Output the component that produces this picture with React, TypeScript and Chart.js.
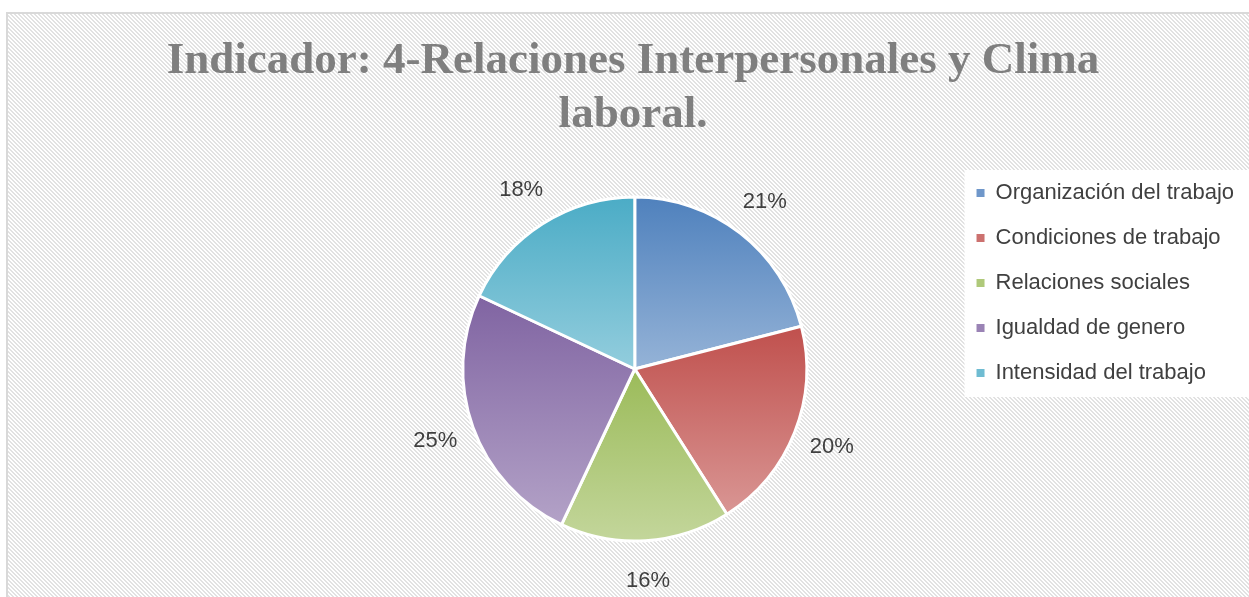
import { useEffect, useRef } from 'react';
import { Chart, registerables, layouts } from 'chart.js';

Chart.register(...registerables);

const categories = [
  'Organización del trabajo',
  'Condiciones de trabajo',
  'Relaciones sociales',
  'Igualdad de genero',
  'Intensidad del trabajo',
];
const values = [21, 20, 16, 25, 18];
const titleLines = ['Indicador: 4-Relaciones Interpersonales y Clima', 'laboral.'];

const topColors = ['#4f81bd', '#c0504d', '#9bbb59', '#8064a2', '#4bacc6'];
const bottomColors = ['#95b3d7', '#d99694', '#c3d69b', '#b3a2c7', '#93cddd'];
const legendColors = ['#6f97ca', '#cc716f', '#afc97a', '#9a83b5', '#6fbcd2'];

const PIE_RADIUS = 172;
const LABEL_OFFSET = 40;
const LEFT_SPACE = 294;
const TEXT_COLOR = '#404040';

function sliceGradient(c: any) {
  const chart = c.chart;
  const area = chart.chartArea;
  const i = c.dataIndex;
  if (!area || i == null) return topColors[i ?? 0];
  const data: number[] = c.dataset.data;
  const total = data.reduce((a, b) => a + b, 0);
  let cum = 0;
  for (let k = 0; k < i; k++) cum += data[k];
  const cy = (area.top + area.bottom) / 2;
  const r = PIE_RADIUS;
  const a0 = -Math.PI / 2 + (2 * Math.PI * cum) / total;
  const a1 = a0 + (2 * Math.PI * data[i]) / total;
  const ys = [cy, cy + r * Math.sin(a0), cy + r * Math.sin(a1)];
  for (const t of [-Math.PI / 2, Math.PI / 2, (3 * Math.PI) / 2]) {
    if (t >= a0 && t <= a1) ys.push(cy + r * Math.sin(t));
  }
  const g = chart.ctx.createLinearGradient(0, Math.min(...ys), 0, Math.max(...ys));
  g.addColorStop(0, topColors[i]);
  g.addColorStop(1, bottomColors[i]);
  return g;
}

const spacerPlugin = {
  id: 'leftSpacer',
  beforeInit(chart: any) {
    const box: any = {
      position: 'left',
      weight: 0,
      fullSize: false,
      options: {},
      left: 0,
      top: 0,
      right: 0,
      bottom: 0,
      width: 0,
      height: 0,
      isHorizontal() {
        return false;
      },
      update(_maxWidth: number, maxHeight: number) {
        this.width = LEFT_SPACE;
        this.height = maxHeight;
      },
      draw() {},
    };
    layouts.addBox(chart, box);
  },
};

const backgroundPlugin = {
  id: 'sheetBackground',
  beforeDraw(chart: any) {
    const { ctx, width, height } = chart;
    ctx.save();
    ctx.fillStyle = '#ffffff';
    ctx.fillRect(0, 0, width, height);
    const pc = document.createElement('canvas');
    pc.width = 4;
    pc.height = 4;
    const p = pc.getContext('2d')!;
    p.fillStyle = '#ffffff';
    p.fillRect(0, 0, 4, 4);
    p.fillStyle = '#e2e2e2';
    for (let y = 0; y < 4; y++) {
      for (let x = 0; x < 4; x++) {
        if ((((x - y) % 4) + 4) % 4 < 2) p.fillRect(x, y, 1, 1);
      }
    }
    const pat = ctx.createPattern(pc, 'repeat');
    if (pat) {
      ctx.fillStyle = pat;
      ctx.fillRect(8, 14, width - 8, height - 14);
    }
    ctx.fillStyle = '#d9d9d9';
    ctx.fillRect(6, 12, width - 6, 2);
    ctx.fillRect(6, 12, 2, height - 12);

    const lg = chart.legend;
    if (lg && lg.legendHitBoxes && lg.legendHitBoxes.length) {
      const hb = lg.legendHitBoxes;
      const top = hb[0].top - 12;
      const last = hb[hb.length - 1];
      const bottom = last.top + last.height + 13;
      ctx.fillStyle = '#ffffff';
      ctx.fillRect(lg.left + 11, top, width - lg.left - 11, bottom - top);
    }
    ctx.restore();
  },
};

const labelPlugin = {
  id: 'outsideLabels',
  afterDatasetsDraw(chart: any) {
    const { ctx } = chart;
    const meta = chart.getDatasetMeta(0);
    const data: number[] = chart.data.datasets[0].data;
    const total = data.reduce((a, b) => a + b, 0);
    ctx.save();
    ctx.font = '22px "Liberation Sans", Arial, sans-serif';
    ctx.fillStyle = TEXT_COLOR;
    ctx.textAlign = 'center';
    ctx.textBaseline = 'middle';
    meta.data.forEach((arc: any, i: number) => {
      const { x, y, startAngle, endAngle, outerRadius } = arc.getProps(
        ['x', 'y', 'startAngle', 'endAngle', 'outerRadius'],
        true
      );
      const mid = (startAngle + endAngle) / 2;
      const rr = outerRadius + LABEL_OFFSET;
      const pct = Math.round((data[i] / total) * 100) + '%';
      ctx.fillText(pct, x + Math.cos(mid) * rr, y + Math.sin(mid) * rr);
    });
    ctx.restore();
  },
};

export default function App() {
  const ref = useRef<HTMLCanvasElement | null>(null);

  useEffect(() => {
    if (!ref.current) return;
    const chart = new Chart(ref.current, {
      type: 'pie',
      data: {
        labels: categories,
        datasets: [
          {
            data: values,
            backgroundColor: sliceGradient as any,
            borderColor: '#ffffff',
            borderWidth: 3,
            radius: PIE_RADIUS,
          } as any,
        ],
      },
      options: {
        responsive: false,
        animation: false,
        layout: { padding: { left: 22, right: 5, top: 0, bottom: 18 } },
        plugins: {
          tooltip: { enabled: false },
          title: {
            display: true,
            fullSize: true,
            text: titleLines,
            color: '#7f7f7f',
            font: { family: '"Liberation Serif", "Times New Roman", serif', size: 45, weight: 'bold', lineHeight: 1.2 },
            padding: { top: 34, bottom: 17 },
          },
          legend: {
            display: true,
            position: 'right',
            align: 'start',
            fullSize: false,
            labels: {
              color: TEXT_COLOR,
              font: { family: '"Liberation Sans", Arial, sans-serif', size: 22 },
              boxWidth: 8,
              boxHeight: 8,
              padding: 23,
              generateLabels: (ch: any) =>
                ch.data.labels.map((l: string, i: number) => ({
                  text: l,
                  fillStyle: legendColors[i],
                  strokeStyle: legendColors[i],
                  lineWidth: 0,
                  hidden: false,
                  index: i,
                  fontColor: TEXT_COLOR,
                })),
            },
          },
        },
      },
      plugins: [spacerPlugin, backgroundPlugin, labelPlugin],
    });
    return () => chart.destroy();
  }, []);

  return (
    <div style={{ position: 'absolute', left: 0, top: 0, width: 1249, height: 597 }}>
      <canvas ref={ref} width={1249} height={597} style={{ display: 'block' }} />
    </div>
  );
}
